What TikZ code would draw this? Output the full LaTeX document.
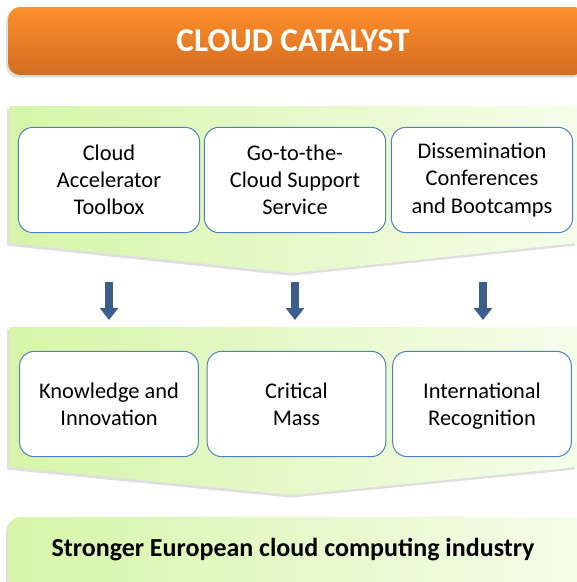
\documentclass[tikz,border=0pt]{standalone}
\usepackage{fontspec}
\setmainfont{Carlito}
\usetikzlibrary{arrows.meta,shadows}

\definecolor{orangeTop}{RGB}{255,143,43}
\definecolor{orangeBot}{RGB}{210,108,32}
\definecolor{greenL}{RGB}{214,245,168}
\definecolor{greenR}{RGB}{245,253,234}
\definecolor{boxBlue}{RGB}{79,129,189}
\definecolor{arrowBlue}{RGB}{59,94,140}

\tikzset{every picture/.style={line width=0.75pt}}
\tikzset{
  softshadow/.style={drop shadow={opacity=0.25,shadow xshift=-1.5pt,shadow yshift=-2pt}},
  chevron/.style={left color=greenL,right color=greenR,softshadow},
  itembox/.style={draw=boxBlue,fill=white,rounded corners=11pt,align=center,
    minimum width=136pt,minimum height=79pt,
    font=\fontsize{16.8}{20.3}\selectfont},
  downarrow/.style={draw=arrowBlue,line width=6pt,-{Triangle[width=13.5pt,length=9pt]}}
}

\begin{document}
\begin{tikzpicture}[x=0.75pt,y=0.75pt,yscale=-1,xscale=1]
\useasboundingbox (0,0) rectangle (577,582);

%Shape: Rounded Rect [id:title]
\path [top color=orangeTop,bottom color=orangeBot,rounded corners=9pt,softshadow] (8,7) rectangle (586,75);
% Text Node
\node (title) at (293,41) {\fontsize{25}{29}\selectfont\bfseries\color{white}CLOUD CATALYST};

%Shape: Chevron [id:top]
\path [chevron] (9,106) -- (577,106) -- (577,243) -- (293,273) -- (9,243) -- cycle;
%Shape: Chevron [id:middle]
\path [chevron] (9,327) -- (577,327) -- (577,467) -- (293,495) -- (9,467) -- cycle;

% Text Node
\node [itembox] (toolbox) at (109,180) {Cloud\\Accelerator\\Toolbox};
% Text Node
\node [itembox] (support) at (295,180) {Go-to-the-\\Cloud Support\\Service};
% Text Node
\node [itembox] (events) at (482,180) {Dissemination\\Conferences\\and Bootcamps};

% Text Node
\node [itembox,minimum width=134pt] (knowledge) at (109,404) {Knowledge and\\Innovation};
% Text Node
\node [itembox,minimum width=134pt] (mass) at (296.5,404) {Critical\\Mass};
% Text Node
\node [itembox,minimum width=134pt,text depth=0pt] (recognition) at (482,404) {International\\Recognition\strut};

%Block Arrows
\coordinate (a1) at (109,282); \coordinate (b1) at (109,320);
\coordinate (a2) at (295,282); \coordinate (b2) at (295,320);
\coordinate (a3) at (483,282); \coordinate (b3) at (483,320);
\draw [downarrow] (a1) -- (b1);
\draw [downarrow] (a2) -- (b2);
\draw [downarrow] (a3) -- (b3);

%Shape: Rounded Rect [id:result]
\path [left color=greenL,right color=greenR,rounded corners=9pt,softshadow] (8,517) rectangle (586,590);
% Text Node
\node (result) at (293,550) {\fontsize{19.5}{23}\selectfont\bfseries Stronger European cloud computing industry};

\end{tikzpicture}
\end{document}
